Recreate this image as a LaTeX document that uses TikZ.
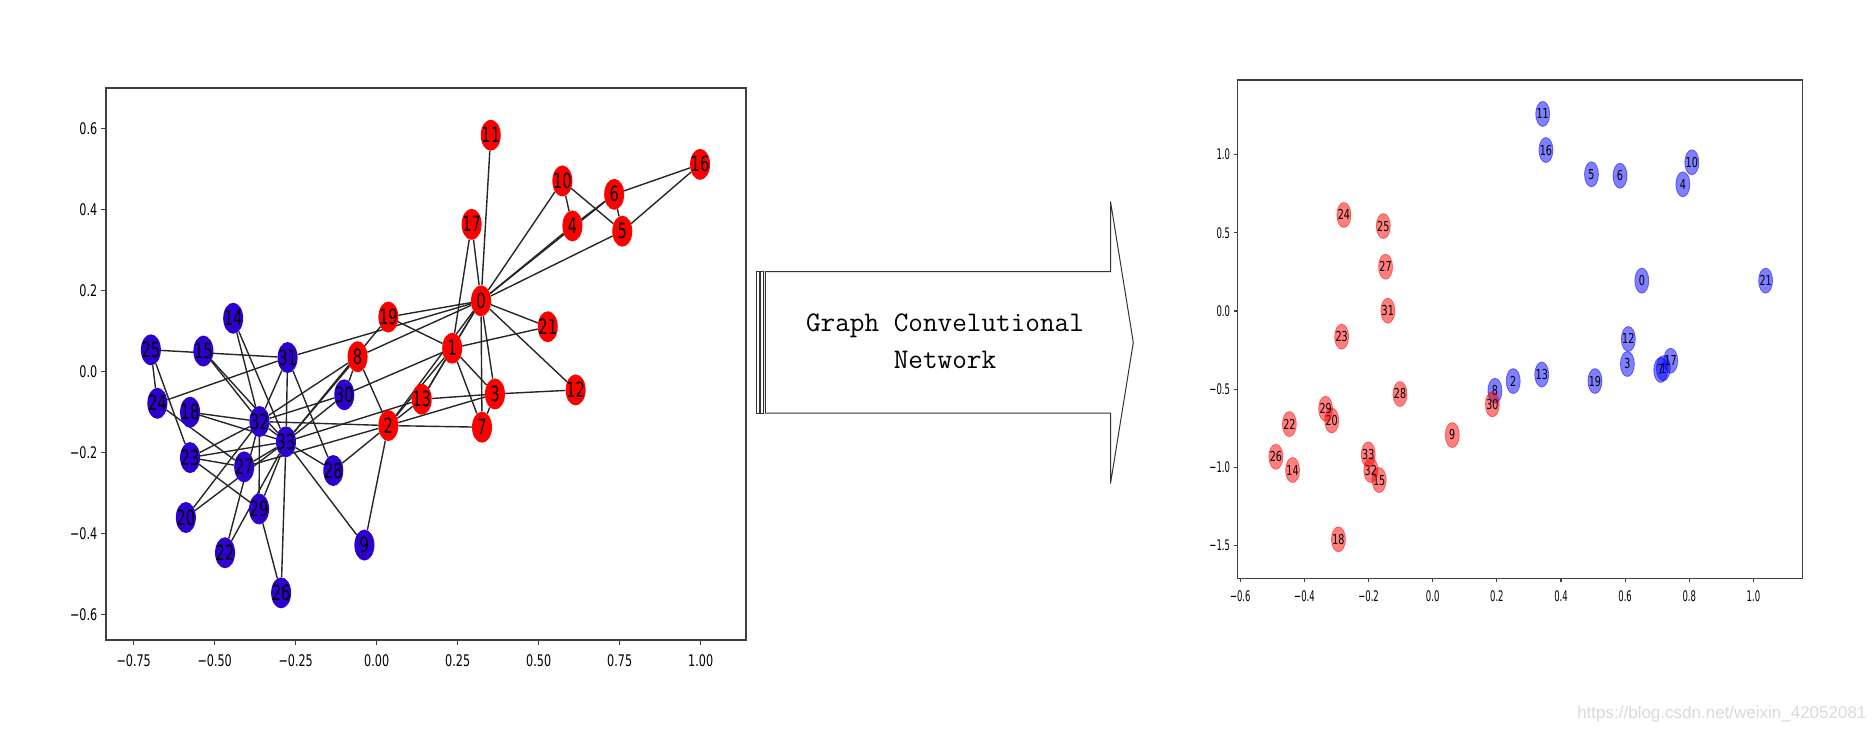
\documentclass[tikz,border=0pt]{standalone}
\usepackage{fontspec}
\usepackage{tikz}
\usetikzlibrary{shapes.geometric, backgrounds}
\newfontfamily\plotfont[FakeStretch=0.7]{DejaVu Sans}
\newfontfamily\tickfont[FakeStretch=0.58]{DejaVu Sans}
\newfontfamily\markfont{Liberation Sans}
\newcommand{\numlbl}[1]{\makebox[0pt]{\raisebox{-0.36em}[0pt][0pt]{#1}}}

\begin{document}
\begin{tikzpicture}[x=1pt, y=-1pt,
    axis/.style={draw=black!75, line width=1.2pt},
    link/.style={draw=black!85, line width=1.4pt},
    lnode/.style={ellipse, inner sep=0pt, minimum width=20pt, minimum height=31pt, font=\plotfont\fontsize{21}{21}\selectfont},
    rnode/.style={ellipse, inner sep=0pt, minimum width=14pt, minimum height=25pt, fill opacity=0.5, draw opacity=0.5, text opacity=1, line width=0.8pt, font=\plotfont\fontsize{13.7}{14}\selectfont},
    ltick/.style={inner sep=0pt, font=\plotfont\fontsize{16}{16}\selectfont},
    rtick/.style={inner sep=0pt, font=\tickfont\fontsize{14.6}{15}\selectfont},
    gcnarrow/.style={draw=black!80, line width=1pt}]
      \colorlet{clubred}{red} \definecolor{clubblue}{RGB}{45,0,205}
      \colorlet{embred}{red} \colorlet{embblue}{blue}
      \useasboundingbox (0,0) rectangle (1876,732);

      % karate club graph
      \begin{scope}[shift={(376.7,371.7)}, x=324pt, y=405pt]
        \draw[axis] (-0.8355,-0.6625) rectangle (1.140,0.7005);
        \foreach \u/\t [count=\k] in {-0.75/−0.75, -0.5/−0.50, -0.25/−0.25, 0/0.00, 0.25/0.25, 0.5/0.50, 0.75/0.75, 1/1.00} {
          \draw[axis] (\u,-0.6625) -- ++(0,-5pt);
          \node[ltick, anchor=north, yshift=-14.5pt] (lx\k) at (\u,-0.6625) {\t};
        }
        \foreach \v/\t [count=\k] in {-0.6/−0.6, -0.4/−0.4, -0.2/−0.2, 0/0.0, 0.2/0.2, 0.4/0.4, 0.6/0.6} {
          \draw[axis] (-0.8355,\v) -- ++(-5pt,0);
          \node[ltick, anchor=east, xshift=-8.5pt] (ly\k) at (-0.8355,\v) {\t};
        }
        \foreach \n/\u/\v/\c in {0/0.322/0.175/clubred, 1/0.233/0.058/clubred, 2/0.036/-0.133/clubred,
            3/0.365/-0.055/clubred, 4/0.604/0.360/clubred, 5/0.758/0.347/clubred, 6/0.733/0.438/clubred,
            7/0.325/-0.137/clubred, 8/-0.059/0.037/clubred, 9/-0.038/-0.428/clubblue, 10/0.573/0.471/clubred,
            11/0.352/0.584/clubred, 12/0.614/-0.045/clubred, 13/0.139/-0.068/clubred, 14/-0.443/0.132/clubblue,
            15/-0.535/0.051/clubblue, 16/0.998/0.512/clubred, 17/0.293/0.364/clubred, 18/-0.576/-0.100/clubblue,
            19/0.036/0.135/clubred, 20/-0.589/-0.360/clubblue, 21/0.528/0.111/clubred, 22/-0.468/-0.447/clubblue,
            23/-0.576/-0.212/clubblue, 24/-0.677/-0.078/clubblue, 25/-0.697/0.054/clubblue, 26/-0.295/-0.546/clubblue,
            27/-0.409/-0.235/clubblue, 28/-0.134/-0.244/clubblue, 29/-0.363/-0.339/clubblue, 30/-0.100/-0.057/clubblue,
            31/-0.275/0.035/clubblue, 32/-0.362/-0.123/clubblue, 33/-0.280/-0.173/clubblue} {
          \node[lnode, fill=\c] (l\n) at (\u,\v) {\numlbl{\n}};
        }
        \begin{scope}[on background layer]
          \foreach \a/\b in {0/1, 0/2, 0/3, 0/4, 0/5, 0/6, 0/7, 0/8, 0/10, 0/11, 0/12, 0/13, 0/17, 0/19, 0/21, 0/31,
              1/2, 1/3, 1/7, 1/13, 1/17, 1/19, 1/21, 1/30, 2/3, 2/7, 2/8, 2/9, 2/13, 2/27, 2/28, 2/32,
              3/7, 3/12, 3/13, 4/6, 4/10, 5/6, 5/10, 5/16, 6/16, 8/30, 8/32, 8/33, 9/33, 13/33,
              14/32, 14/33, 15/32, 15/33, 18/32, 18/33, 19/33, 20/32, 20/33, 22/32, 22/33,
              23/25, 23/27, 23/29, 23/32, 23/33, 24/25, 24/27, 24/31, 25/31, 26/29, 26/33, 27/33,
              28/31, 28/33, 29/32, 29/33, 30/32, 30/33, 31/32, 31/33, 32/33} {
            \draw[link] (l\a) -- (l\b);
          }
        \end{scope}
      \end{scope}

      % arrow
      \draw[gcnarrow] (765.3,271.5) -- (1110.5,271.5) -- (1110.5,201.5) -- (1133.3,342.5)
        -- (1110.5,483.5) -- (1110.5,413) -- (765.3,413) -- cycle;
      \draw[gcnarrow] (756.7,271.5) rectangle (759.3,413);
      \draw[gcnarrow] (760.5,271.5) rectangle (763.7,413);
      \node[font=\ttfamily\fontsize{28.4}{36.7}\selectfont, align=center] (gcn) at (945,341) {Graph Convelutional\\Network};

      % embedding
      \begin{scope}[shift={(1432.7,311)}, x=320.7pt, y=156.4pt]
        \draw[axis] (-0.608,-1.709) rectangle (1.154,1.477);
        \foreach \u/\t [count=\k] in {-0.6/−0.6, -0.4/−0.4, -0.2/−0.2, 0/0.0, 0.2/0.2, 0.4/0.4, 0.6/0.6, 0.8/0.8, 1/1.0} {
          \draw[axis] (\u,-1.709) -- ++(0,-4pt);
          \node[rtick, anchor=north, yshift=-12.5pt] (rx\k) at (\u,-1.709) {\t};
        }
        \foreach \v/\t [count=\k] in {-1.5/−1.5, -1/−1.0, -0.5/−0.5, 0/0.0, 0.5/0.5, 1/1.0} {
          \draw[axis] (-0.608,\v) -- ++(-4pt,0);
          \node[rtick, anchor=east, xshift=-7.5pt] (ry\k) at (-0.608,\v) {\t};
        }
        \foreach \n/\u/\v/\c in {0/0.652/0.194/embblue, 1/0.719/-0.366/embblue, 2/0.251/-0.448/embblue,
            3/0.607/-0.339/embblue, 4/0.780/0.810/embblue, 5/0.495/0.874/embblue, 6/0.584/0.865/embblue,
            7/0.711/-0.377/embblue, 8/0.194/-0.510/embblue, 9/0.061/-0.793/embred, 10/0.808/0.951/embblue,
            11/0.343/1.260/embblue, 12/0.610/-0.179/embblue, 13/0.340/-0.406/embblue, 14/-0.437/-1.017/embred,
            15/-0.167/-1.081/embred, 16/0.353/1.029/embblue, 17/0.742/-0.318/embblue, 18/-0.294/-1.460/embred,
            19/0.506/-0.448/embblue, 20/-0.315/-0.700/embred, 21/1.038/0.194/embblue, 22/-0.447/-0.723/embred,
            23/-0.284/-0.164/embred, 24/-0.277/0.614/embred, 25/-0.154/0.543/embred, 26/-0.489/-0.932/embred,
            27/-0.147/0.283/embred, 28/-0.102/-0.531/embred, 29/-0.334/-0.625/embred, 30/0.186/-0.597/embred,
            31/-0.140/0.002/embred, 32/-0.193/-1.017/embred, 33/-0.201/-0.917/embred} {
          \node[rnode, fill=\c, draw=\c] (r\n) at (\u,\v) {\numlbl{\n}};
        }
      \end{scope}

      \node[anchor=east, text=black!15, font=\markfont\fontsize{17}{17}\selectfont] (mark) at (1870,714) {https://blog.csdn.net/weixin\_42052081};
    \end{tikzpicture}
\end{document}
